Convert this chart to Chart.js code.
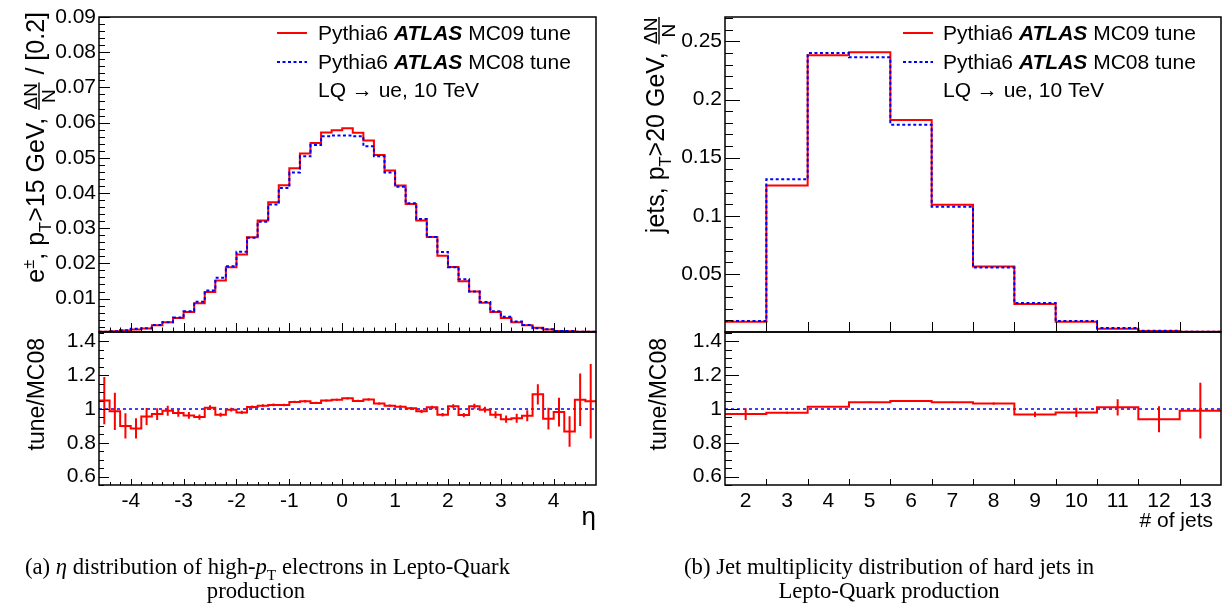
<!DOCTYPE html>
<html>
<head>
<meta charset="utf-8">
<script src="https://cdn.jsdelivr.net/npm/chart.js@4.4.1/dist/chart.umd.min.js"></script>
<style>
    html, body { margin: 0; padding: 0; background: #fff; }
    #wrap { position: relative; width: 1224px; height: 614px; }
    #wrap canvas { position: absolute; top: 0; }
</style>
</head>
<body>
<div id="wrap">
    <canvas id="chartEta" width="612" height="614" style="left:0"></canvas>
    <canvas id="chartJets" width="612" height="614" style="left:612px"></canvas>
</div>
<script>
// ---------------- données ----------------
// (a) eta des electrons, bins de 0.2 entre -4.6 et 4.8
const etaEdges = [-4.6, -4.4, -4.2, -4.0, -3.8, -3.6, -3.4, -3.2, -3.0, -2.8, -2.6, -2.4, -2.2, -2.0, -1.8, -1.6,
    -1.4, -1.2, -1.0, -0.8, -0.6, -0.4, -0.2, 0.0, 0.2, 0.4, 0.6, 0.8, 1.0, 1.2, 1.4, 1.6, 1.8, 2.0, 2.2, 2.4,
    2.6, 2.8, 3.0, 3.2, 3.4, 3.6, 3.8, 4.0, 4.2, 4.4, 4.6, 4.8];
const etaMC09 = [0.0006, 0.0007, 0.0009, 0.0012, 0.0015, 0.0024, 0.0033, 0.0045, 0.0062, 0.0087, 0.0119, 0.0151,
    0.0189, 0.0225, 0.0274, 0.0322, 0.0374, 0.0422, 0.0470, 0.0512, 0.0542, 0.0572, 0.0578, 0.0584, 0.0571, 0.0549,
    0.0508, 0.0464, 0.0421, 0.0369, 0.0322, 0.0275, 0.0222, 0.0190, 0.0149, 0.0120, 0.0088, 0.0062, 0.0045, 0.0033,
    0.0024, 0.0017, 0.0012, 0.0008, 0.0007, 0.0006, 0.0006];
const etaMC08 = [0.0006, 0.0007, 0.0010, 0.0014, 0.0016, 0.0025, 0.0033, 0.0046, 0.0064, 0.0091, 0.0123, 0.0159,
    0.0192, 0.0233, 0.0273, 0.0318, 0.0367, 0.0414, 0.0458, 0.0504, 0.0536, 0.0561, 0.0563, 0.0563, 0.0561, 0.0533,
    0.0504, 0.0458, 0.0418, 0.0371, 0.0326, 0.0275, 0.0232, 0.0189, 0.0155, 0.0120, 0.0090, 0.0064, 0.0048, 0.0035,
    0.0025, 0.0016, 0.0013, 0.0008, 0.0008, 0.0006, 0.0006];
const etaRatio = [1.05, 0.986, 0.90, 0.885, 0.956, 0.97, 0.99, 0.976, 0.962, 0.952, 1.008, 0.966, 0.996, 0.98, 1.012,
    1.02, 1.024, 1.024, 1.042, 1.046, 1.036, 1.05, 1.055, 1.063, 1.048, 1.057, 1.032, 1.02, 1.014, 1.004, 0.986, 1.01,
    0.966, 1.016, 0.964, 1.016, 0.996, 0.966, 0.94, 0.945, 0.96, 1.087, 0.943, 0.982, 0.867, 1.055, 1.046];
const etaRatioErr = [0.14, 0.11, 0.075, 0.06, 0.05, 0.035, 0.03, 0.022, 0.02, 0.016, 0.014, 0.012, 0.011, 0.01, 0.009,
    0.008, 0.008, 0.007, 0.007, 0.007, 0.007, 0.007, 0.006, 0.006, 0.007, 0.007, 0.007, 0.007, 0.008, 0.008, 0.009,
    0.01, 0.011, 0.012, 0.013, 0.015, 0.017, 0.02, 0.022, 0.027, 0.032, 0.06, 0.065, 0.085, 0.09, 0.155, 0.22];
const etaXTicks = [-4, -3, -2, -1, 0, 1, 2, 3, 4];
const etaYTicks = [0.01, 0.02, 0.03, 0.04, 0.05, 0.06, 0.07, 0.08, 0.09];

// (b) multiplicite des jets
const jetBins = [2, 3, 4, 5, 6, 7, 8, 9, 10, 11, 12, 13];
const jetMC09 = [0.0089, 0.126, 0.238, 0.2406, 0.1823, 0.1094, 0.0563, 0.0240, 0.0089, 0.0029, 0.0009, 0.0003];
const jetMC08 = [0.0094, 0.1314, 0.240, 0.2363, 0.1783, 0.1077, 0.0554, 0.0249, 0.0094, 0.0034, 0.0010, 0.0003];
const jetRatio = [0.97, 0.978, 1.014, 1.04, 1.048, 1.04, 1.032, 0.968, 0.98, 1.01, 0.94, 0.99];
const jetRatioErr = [0.035, 0.006, 0.004, 0.004, 0.004, 0.005, 0.007, 0.016, 0.028, 0.048, 0.077, 0.165];
const jetYTicks = [0.05, 0.1, 0.15, 0.2, 0.25];

const ratioTicks = [0.6, 0.8, 1, 1.2, 1.4];

// ---------------- helpers ----------------
const SANS = 'Liberation Sans';
const SERIF = 'Liberation Serif';
Chart.defaults.font.family = SANS;
Chart.defaults.font.size = 21;
Chart.defaults.color = '#000';

//histogramme en escalier : un point par bord gauche + le bord de fin
function stepData(edges, vals) {
    let pts = vals.map((v, i) => ({x: edges[i], y: v}));
    pts.push({x: edges[edges.length - 1], y: vals[vals.length - 1]});
    return pts;
}
//barres d'erreur verticales au centre des bins, séparées par des null
function errData(edges, vals, errs) {
    let pts = [];
    for (let i = 0; i < vals.length; i++) {
        let c = (edges[i] + edges[i + 1]) / 2;
        pts.push({x: c, y: vals[i] - errs[i]}, {x: c, y: vals[i] + errs[i]}, {x: c, y: null});
    }
    return pts;
}
function lineSet(data, color, width, dash, axis, stepped) {
    return {
        data: data, yAxisID: axis, borderColor: color, borderWidth: width, borderDash: dash,
        stepped: stepped, pointRadius: 0, fill: false, spanGaps: false, tension: 0
    };
}
const fmt = v => String(Math.round(v * 1000) / 1000);

// edges des jets (bins centrés sur les entiers)
const jetEdges = jetBins.map(b => b - 0.5).concat([jetBins[jetBins.length - 1] + 0.5]);

// ---------------- décor façon ROOT (cadre, ticks internes, légende, titres) ----------------
const decor = {
    chartEta: {
        main: {majY: etaYTicks, minY: {from: 0.002, step: 0.002, to: 0.09}, yMaj: 11, yMin: 6,
            majX: etaXTicks, minX: {from: -4.4, step: 0.2, to: 4.8}, xMaj: 9, xMin: 4.5},
        ratio: {majY: ratioTicks, minY: {from: 0.55, step: 0.05, to: 1.456}, yMaj: 10, yMin: 5,
            majX: etaXTicks, minX: {from: -4.4, step: 0.2, to: 4.8}, xMaj: 6, xMin: 3},
        legend: {x: 277, text: 318},
        yTitle: {x: 44, yEnd: 12, size: 25, parts: 'eta'},
        rTitle: {x: 44, yEnd: 338},
        xTitle: {text: 'η', x: 596, y: 525, size: 26},
        caption: [
            {x: 25, y: 574, align: 'left', parts: [['(a) ', ''], ['η', 'italic '], [' distribution of high-', ''], ['p', 'italic '], ['T', 'sub'], [' electrons in Lepto-Quark', '']]},
            {x: 256, y: 598, align: 'center', parts: [['production', '']]}
        ]
    },
    chartJets: {
        main: {majY: jetYTicks, minY: {from: 0.01, step: 0.01, to: 0.271}, yMaj: 15, yMin: 8,
            majX: jetEdges.slice(1, -1), minX: null, xMaj: 10, xMin: 0},
        ratio: {majY: ratioTicks, minY: {from: 0.55, step: 0.05, to: 1.456}, yMaj: 14, yMin: 7,
            majX: jetEdges.slice(1, -1), minX: null, xMaj: 6, xMin: 0},
        legend: {x: 291, text: 331},
        yTitle: {x: 52, yEnd: 16, size: 25, parts: 'jets'},
        rTitle: {x: 54, yEnd: 338},
        xTitle: {text: '# of jets', x: 601, y: 527, size: 21},
        caption: [
            {x: 72, y: 574, align: 'left', parts: [['(b) Jet multiplicity distribution of hard jets in', '']]},
            {x: 277, y: 598, align: 'center', parts: [['Lepto-Quark production', '']]}
        ]
    }
};

function drawPad(ctx, chart, ys, d) {
    const xs = chart.scales.x;
    const left = chart.chartArea.left, right = chart.chartArea.right;
    const top = ys.top, bot = ys.bottom;
    ctx.strokeStyle = '#000';
    ctx.lineWidth = 1;
    ctx.setLineDash([]);
    ctx.beginPath();
    d.majY.forEach(v => {
        let p = Math.round(ys.getPixelForValue(v)) + 0.5;
        ctx.moveTo(left, p); ctx.lineTo(left + d.yMaj, p);
    });
    for (let k = 0; d.minY.from + k * d.minY.step <= d.minY.to + 1e-9; k++) {
        let v = d.minY.from + k * d.minY.step;
        if (v < ys.min || v > ys.max) continue;
        let p = Math.round(ys.getPixelForValue(v)) + 0.5;
        ctx.moveTo(left, p); ctx.lineTo(left + d.yMin, p);
    }
    d.majX.forEach(v => {
        let p = Math.round(xs.getPixelForValue(v)) + 0.5;
        ctx.moveTo(p, bot); ctx.lineTo(p, bot - d.xMaj);
    });
    if (d.minX) {
        for (let k = 0; d.minX.from + k * d.minX.step < d.minX.to - 1e-9; k++) {
            let v = d.minX.from + k * d.minX.step;
            let p = Math.round(xs.getPixelForValue(v)) + 0.5;
            ctx.moveTo(p, bot); ctx.lineTo(p, bot - d.xMin);
        }
    }
    ctx.stroke();
    ctx.lineWidth = 1.5;
    ctx.strokeRect(Math.round(left), Math.round(top), Math.round(right - left), Math.round(bot - top));
}

function drawRuns(ctx, runs, x, y, size, family, align) {
    // runs : [texte, style] ; style 'sub' = indice, 'sup' = exposant
    const fontOf = st => {
        if (st === 'sub' || st === 'sup') return (size * 0.68).toFixed(1) + 'px ' + family;
        return st + size + 'px ' + family;
    };
    let w = 0;
    runs.forEach(r => { ctx.font = fontOf(r[1]); w += ctx.measureText(r[0]).width; });
    let cx = align === 'right' ? x - w : (align === 'center' ? x - w / 2 : x);
    ctx.textAlign = 'left';
    ctx.textBaseline = 'alphabetic';
    runs.forEach(r => {
        ctx.font = fontOf(r[1]);
        let dy = r[1] === 'sub' ? size * 0.25 : (r[1] === 'sup' ? -size * 0.4 : 0);
        ctx.fillText(r[0], cx, y + dy);
        cx += ctx.measureText(r[0]).width;
    });
}

//titre vertical avec fraction ΔN/N
function drawYTitle(ctx, t) {
    const s = t.size, fs = 19;
    const big = s + 'px ' + SANS, small = (s * 0.66).toFixed(1) + 'px ' + SANS, fr = fs + 'px ' + SANS;
    let items;
    if (t.parts === 'eta') {
        items = [['e', big, 0], ['±', small, -s * 0.42], [', p', big, 0], ['T', small, s * 0.28],
            ['>15 GeV, ', big, 0], ['FRAC'], [' / [0.2]', big, 0]];
    } else {
        items = [['jets, p', big, 0], ['T', small, s * 0.28], ['>20 GeV, ', big, 0], ['FRAC']];
    }
    ctx.font = fr;
    const fw = ctx.measureText('ΔN').width + 3;
    let w = 0;
    items.forEach(it => {
        if (it[0] === 'FRAC') { w += fw; return; }
        ctx.font = it[1]; w += ctx.measureText(it[0]).width;
    });
    ctx.save();
    ctx.translate(t.x, t.yEnd);
    ctx.rotate(-Math.PI / 2);
    ctx.fillStyle = '#000';
    ctx.textBaseline = 'alphabetic';
    let cx = -w;
    items.forEach(it => {
        if (it[0] === 'FRAC') {
            const bar = -5;
            ctx.font = fr;
            ctx.textAlign = 'center';
            ctx.fillText('ΔN', cx + fw / 2, bar - 2);
            ctx.fillText('N', cx + fw / 2, bar + 2 + fs * 0.72);
            ctx.fillRect(cx + 1, bar - 0.7, fw - 2, 1.4);
            ctx.textAlign = 'left';
            cx += fw;
            return;
        }
        ctx.font = it[1];
        ctx.textAlign = 'left';
        ctx.fillText(it[0], cx, it[2]);
        cx += ctx.measureText(it[0]).width;
    });
    ctx.restore();
}

function drawLegend(ctx, lg) {
    const rows = [33, 62, 90];
    ctx.lineWidth = 2;
    ctx.strokeStyle = '#ff0000';
    ctx.setLineDash([]);
    ctx.beginPath(); ctx.moveTo(lg.x, rows[0]); ctx.lineTo(lg.x + 30, rows[0]); ctx.stroke();
    ctx.strokeStyle = '#0000ff';
    ctx.setLineDash([3, 2.5]);
    ctx.beginPath(); ctx.moveTo(lg.x, rows[1]); ctx.lineTo(lg.x + 30, rows[1]); ctx.stroke();
    ctx.setLineDash([]);
    ctx.fillStyle = '#000';
    const base = 7;
    drawRuns(ctx, [['Pythia6 ', ''], ['ATLAS', 'italic bold '], [' MC09 tune', '']], lg.text, rows[0] + base, 21, SANS, 'left');
    drawRuns(ctx, [['Pythia6 ', ''], ['ATLAS', 'italic bold '], [' MC08 tune', '']], lg.text, rows[1] + base, 21, SANS, 'left');
    drawRuns(ctx, [['LQ → ue, 10 TeV', '']], lg.text, rows[2] + base, 21, SANS, 'left');
}

const rootDecor = {
    id: 'rootDecor',
    afterDraw(chart) {
        const d = decor[chart.canvas.id];
        const ctx = chart.ctx;
        ctx.save();
        drawPad(ctx, chart, chart.scales.y, d.main);
        drawPad(ctx, chart, chart.scales.ratio, d.ratio);
        drawLegend(ctx, d.legend);
        drawYTitle(ctx, d.yTitle);
        // titre du ratio
        ctx.save();
        ctx.translate(d.rTitle.x, d.rTitle.yEnd);
        ctx.rotate(-Math.PI / 2);
        ctx.font = '23px ' + SANS;
        ctx.textAlign = 'right';
        ctx.fillStyle = '#000';
        ctx.fillText('tune/MC08', 0, 0);
        ctx.restore();
        // titre de l'axe x
        ctx.font = d.xTitle.size + 'px ' + SANS;
        ctx.textAlign = 'right';
        ctx.fillText(d.xTitle.text, d.xTitle.x, d.xTitle.y);
        // légende de la figure
        d.caption.forEach(c => drawRuns(ctx, c.parts, c.x, c.y, 22.7, SERIF, c.align));
        ctx.restore();
    }
};

function makeChart(id, edges, mc09, mc08, ratio, ratioErr, cfg) {
    const lo = edges[0], hi = edges[edges.length - 1];
    return new Chart(document.getElementById(id), {
        type: 'line',
        data: {
            datasets: [
                // dataset 0 dessiné en dernier
                lineSet(errData(edges, ratio, ratioErr), '#ff0000', 2, [], 'ratio', false),
                lineSet(stepData(edges, ratio), '#ff0000', 2, [], 'ratio', true),
                lineSet([{x: lo, y: 1}, {x: hi, y: 1}], '#0000ff', 1.5, [3, 3], 'ratio', false),
                lineSet(stepData(edges, mc08), '#0000ff', 2, [3, 2.5], 'y', true),
                lineSet(stepData(edges, mc09), '#ff0000', 2, [], 'y', true)
            ]
        },
        options: {
            responsive: false,
            animation: false,
            events: [],
            layout: {padding: {left: 0, right: cfg.padRight, top: 17, bottom: 89}},
            plugins: {legend: {display: false}, tooltip: {enabled: false}},
            scales: {
                x: {
                    type: 'linear', axis: 'x', min: cfg.xMin, max: cfg.xMax,
                    grid: {display: false, drawTicks: false}, border: {display: false},
                    ticks: {padding: 4, maxRotation: 0, autoSkip: false, callback: fmt},
                    afterBuildTicks: s => { s.ticks = cfg.xTicks.map(v => ({value: v})); },
                    afterFit: s => { s.height = 40; }
                },
                y: {
                    type: 'linear', axis: 'y', position: 'left', stack: 'pad', stackWeight: 315, weight: 1,
                    min: cfg.yMin, max: cfg.yMax,
                    grid: {display: false, drawTicks: false}, border: {display: false},
                    ticks: {padding: 3, autoSkip: false, callback: fmt},
                    afterBuildTicks: s => { s.ticks = cfg.yTicks.map(v => ({value: v})); },
                    afterFit: s => { s.width = cfg.axisW; }
                },
                ratio: {
                    type: 'linear', axis: 'y', position: 'left', stack: 'pad', stackWeight: 153, weight: 0,
                    min: 0.55, max: 1.456,
                    grid: {display: false, drawTicks: false}, border: {display: false},
                    ticks: {padding: 3, autoSkip: false, callback: fmt},
                    afterBuildTicks: s => { s.ticks = ratioTicks.map(v => ({value: v})); },
                    afterFit: s => { s.width = cfg.axisW; }
                }
            }
        },
        plugins: [rootDecor]
    });
}

const chartEta = makeChart('chartEta', etaEdges, etaMC09, etaMC08, etaRatio, etaRatioErr, {
    xMin: -4.6, xMax: 4.8, xTicks: etaXTicks, yMin: 0.0005, yMax: 0.09, yTicks: etaYTicks, axisW: 99, padRight: 16
});
const chartJets = makeChart('chartJets', jetEdges, jetMC09, jetMC08, jetRatio, jetRatioErr, {
    xMin: 1.5, xMax: 13.5, xTicks: jetBins, yMin: 0, yMax: 0.271, yTicks: jetYTicks, axisW: 113, padRight: 3
});
</script>
</body>
</html>
